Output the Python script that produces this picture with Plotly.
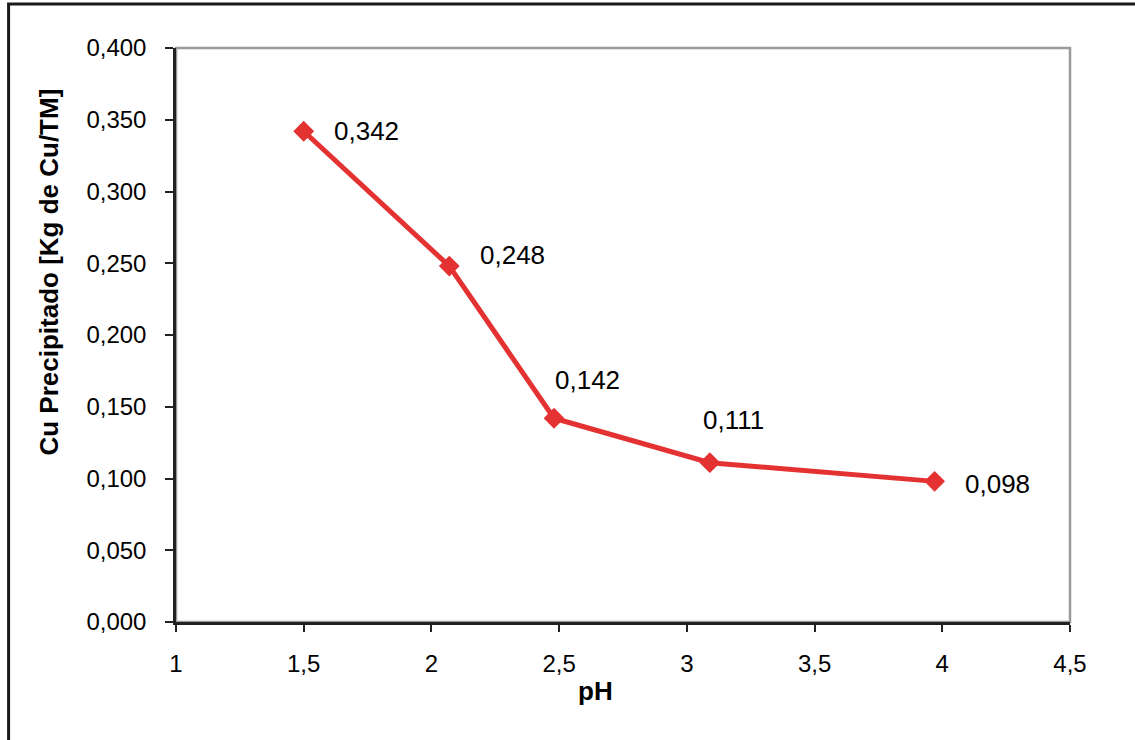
import plotly.graph_objects as go

# ---- data ----
ph = [1.5, 2.07, 2.48, 3.09, 3.97]
cu_precipitado = [0.342, 0.248, 0.142, 0.111, 0.098]
x_tick_vals = [1, 1.5, 2, 2.5, 3, 3.5, 4, 4.5]
x_tick_text = ["1", "1,5", "2", "2,5", "3", "3,5", "4", "4,5"]
y_tick_vals = [0, 0.05, 0.1, 0.15, 0.2, 0.25, 0.3, 0.35, 0.4]
y_tick_text = ["0,000", "0,050", "0,100", "0,150", "0,200", "0,250", "0,300", "0,350", "0,400"]
x_title = "pH"
y_title = "Cu Precipitado [Kg de Cu/TM]"

# label offsets (pixels) for data labels
label_dx = [63, 63, 33, 24, 63]
label_dy = [0, 11, 38, 43, -3]

FONT = "Liberation Sans, Arial, sans-serif"
RED = "#E43131"

fig = go.Figure()
fig.add_trace(go.Scatter(
    x=ph, y=cu_precipitado, mode="lines+markers",
    line=dict(color=RED, width=5),
    marker=dict(symbol="diamond", size=16, color=RED),
    showlegend=False, hoverinfo="x+y",
))

L, R, T, B = 175.5, 65, 48, 118
W, H = 1135, 740
pw, ph_ = W - L - R, H - T - B

annotations = []
for xv, yv, dx, dy in zip(ph, cu_precipitado, label_dx, label_dy):
    annotations.append(dict(
        x=xv, y=yv, xref="x", yref="y",
        text=f"{yv:.3f}".replace(".", ","),
        showarrow=False, xshift=dx, yshift=dy,
        font=dict(family=FONT, size=26, color="#000000"),
    ))

# axis titles (positioned like the reference)
annotations.append(dict(
    x=(48 - L) / pw, y=(H - B - 272) / ph_, xref="paper", yref="paper",
    text=f"<b>{y_title}</b>", textangle=-90, showarrow=False,
    xanchor="center", yanchor="middle",
    font=dict(family=FONT, size=26, color="#000000"),
))
annotations.append(dict(
    x=(595 - L) / pw, y=(H - B - 691) / ph_, xref="paper", yref="paper",
    text=f"<b>{x_title}</b>", showarrow=False,
    xanchor="center", yanchor="middle",
    font=dict(family=FONT, size=26, color="#000000"),
))

shapes = [
    # plot area border (gray)
    dict(type="rect", xref="paper", yref="paper", x0=0, x1=1, y0=0, y1=1,
         line=dict(color="#9a9a9a", width=2.5), layer="below"),
    # outer chart border
    dict(type="rect", xref="paper", yref="paper",
         x0=(8 - L) / pw, x1=(W + 10 - L) / pw,
         y0=(H - B - (H + 10)) / ph_, y1=(H - B - 4) / ph_,
         line=dict(color="#1a1a1a", width=3), layer="below"),
]

fig.update_layout(
    width=W, height=H,
    margin=dict(l=L, r=R, t=T, b=B, pad=0),
    paper_bgcolor="white", plot_bgcolor="white",
    font=dict(family=FONT, color="#000000"),
    annotations=annotations, shapes=shapes,
    xaxis=dict(
        range=[1, 4.5], tickvals=x_tick_vals, ticktext=x_tick_text,
        showgrid=False, zeroline=False, showline=True, linecolor="#222222", linewidth=2.5,
        ticks="outside", ticklen=7, tickwidth=1.5, tickcolor="#222222",
        tickfont=dict(family=FONT, size=24, color="#000000"),
        ticklabelstandoff=11,
    ),
    yaxis=dict(
        range=[0, 0.4], tickvals=y_tick_vals, ticktext=y_tick_text,
        showgrid=False, zeroline=False, showline=True, linecolor="#222222", linewidth=2.5,
        ticks="outside", ticklen=8, tickwidth=1.5, tickcolor="#222222",
        tickfont=dict(family=FONT, size=24, color="#000000"),
        ticklabelstandoff=14,
    ),
)

fig.write_html("out.html")
